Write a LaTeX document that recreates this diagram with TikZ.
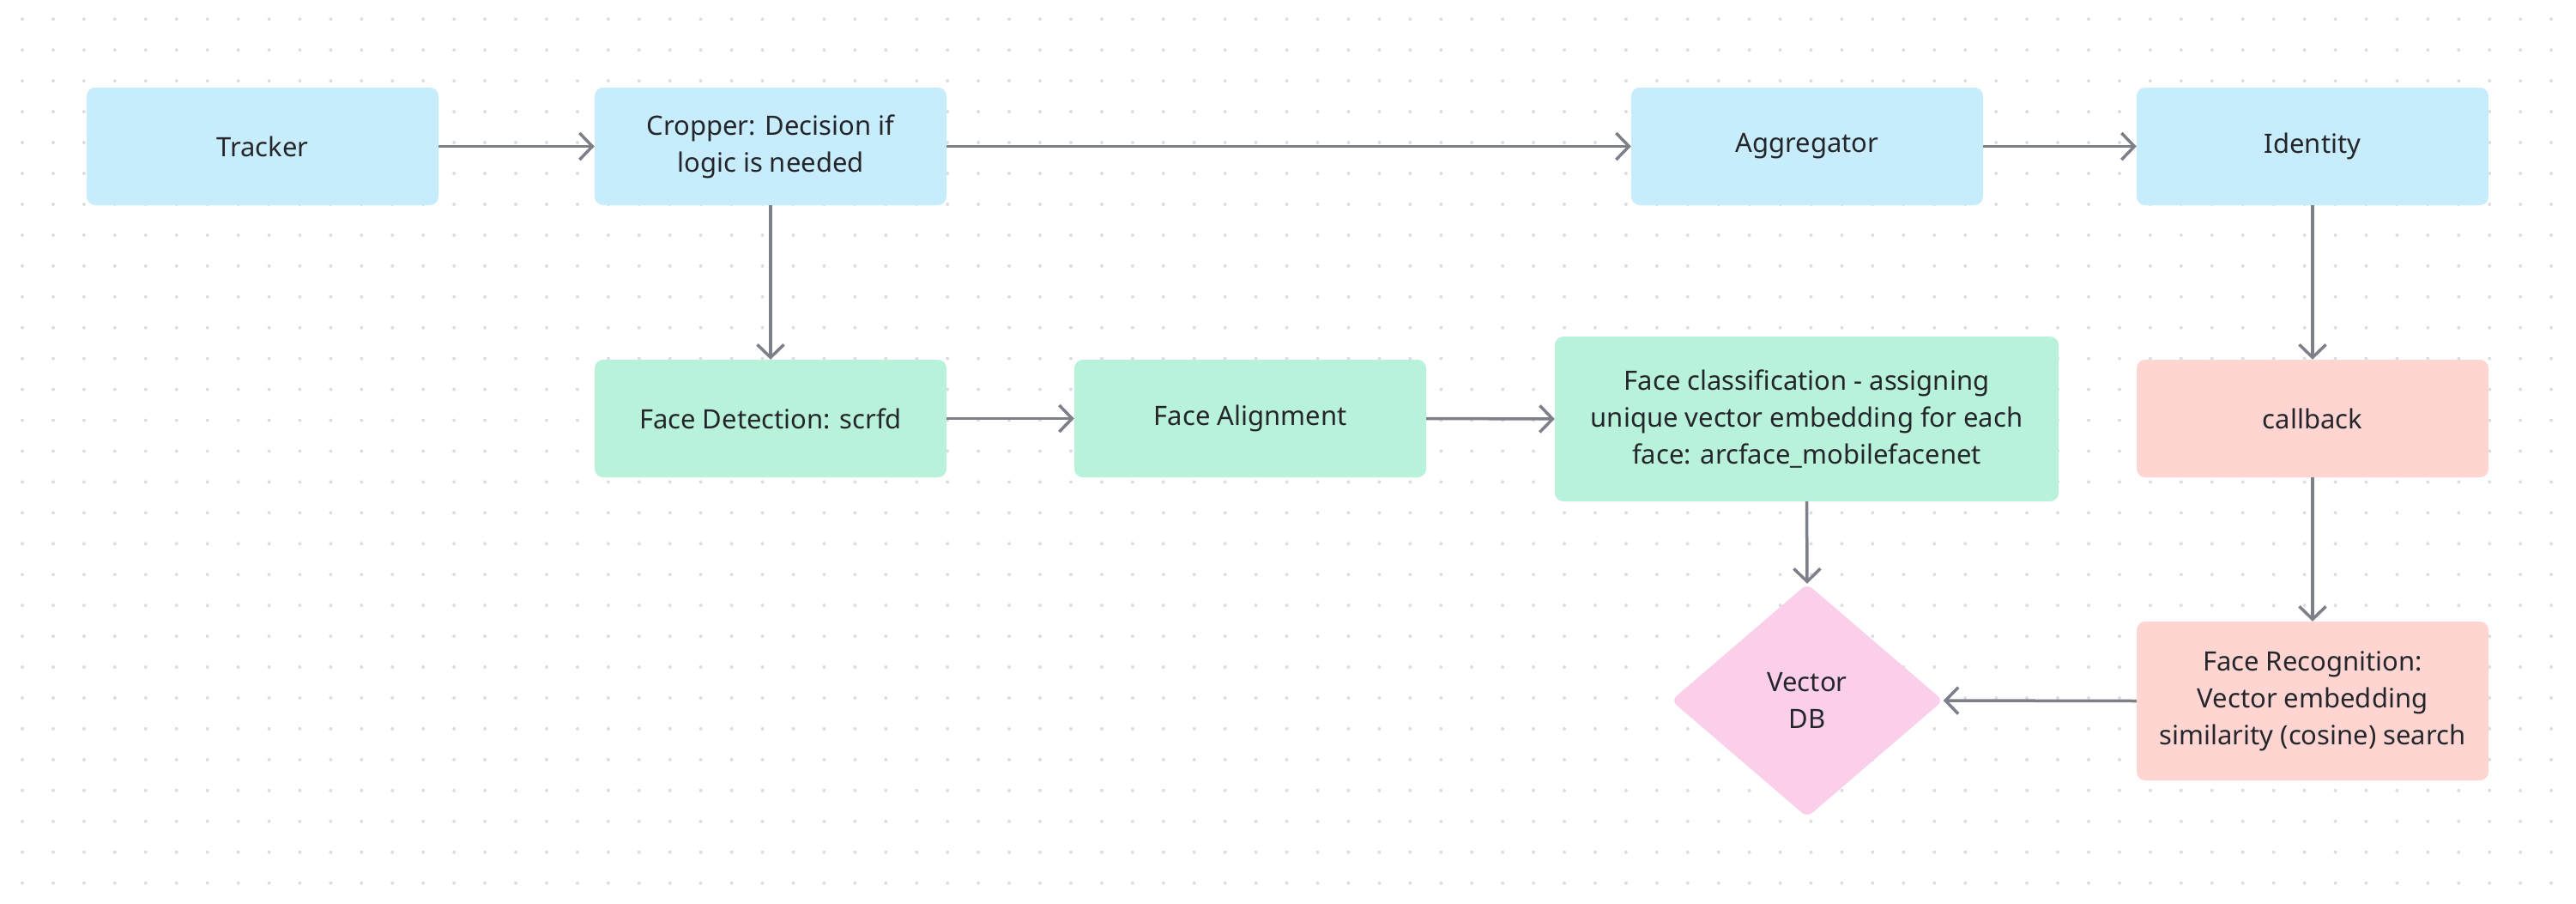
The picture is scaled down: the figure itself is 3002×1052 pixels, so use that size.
\documentclass[tikz,border=0pt]{standalone}
\usepackage{fontspec}
\setmainfont{Noto Sans}
\usetikzlibrary{arrows.meta,shapes.geometric}
\definecolor{bluebox}{HTML}{C7ECFB}
\definecolor{greenbox}{HTML}{B8F2DA}
\definecolor{redbox}{HTML}{FED5D1}
\definecolor{pinkbox}{HTML}{FBCFEA}
\definecolor{arrcol}{HTML}{7E8089}
\definecolor{txtcol}{HTML}{25262B}
\definecolor{dotcol}{HTML}{DCDDE4}
\begin{document}
\begin{tikzpicture}[x=1pt,y=-1pt,
  box/.style={rectangle, rounded corners=10pt, minimum width=410pt, minimum height=137pt,
    inner sep=0pt, align=center, text=txtcol, font=\fontsize{31pt}{43pt}\selectfont},
  blue/.style={box, fill=bluebox},
  green/.style={box, fill=greenbox},
  red/.style={box, fill=redbox},
  conn/.style={draw=arrcol, line width=3.5pt, -{Straight Barb[length=15pt,width=31pt]}}
]
\fill[white] (0,0) rectangle (3002,1052);
\useasboundingbox (0,0) rectangle (3002,1052);
\foreach \i in {0,...,82}{
  \foreach \j in {0,...,28}{
    \fill[dotcol] ({26+35.94*\i},{22.3+35.94*\j}) circle (2pt);
  }
}
\node[blue] (tracker) at (306,170.5) {Tracker};
\node[blue] (cropper) at (898,170.5) {Cropper: Decision if\\logic is needed};
\node[blue] (aggr) at (2106,170.5) {Aggregator};
\node[blue] (ident) at (2695,170.5) {Identity};
\node[green] (fdet) at (898,487.5) {Face Detection: scrfd};
\node[green] (falign) at (1457,487.5) {Face Alignment};
\node[green, minimum width=587pt, minimum height=192pt] (fclass) at (2105.5,488)
  {Face classification - assigning\\unique vector embedding for each\\face: arcface\_mobilefacenet};
\node[red] (callback) at (2695,487.5) {callback};
\node[red, minimum height=185pt] (frec) at (2695,816.5)
  {Face Recognition:\\Vector embedding\\similarity (cosine) search};
\node[diamond, fill=pinkbox, rounded corners=8pt, minimum width=317pt, minimum height=272pt,
  inner sep=0pt, align=center, text=txtcol, font=\fontsize{31pt}{43pt}\selectfont] (vdb) at (2106,816) {Vector\\DB};
\draw[conn] (tracker.east) -- (cropper.west);
\draw[conn] (cropper.east) -- (aggr.west);
\draw[conn] (aggr.east) -- (ident.west);
\draw[conn] (cropper.south) -- (fdet.north);
\draw[conn] (fdet.east) -- (falign.west);
\draw[conn] (falign.east) -- (fclass.west);
\draw[conn] (ident.south) -- (callback.north);
\draw[conn] (callback.south) -- (frec.north);
\draw[conn] (fclass.south) -- (vdb.north);
\draw[conn] (frec.west) -- (vdb.east);
\end{tikzpicture}
\end{document}
